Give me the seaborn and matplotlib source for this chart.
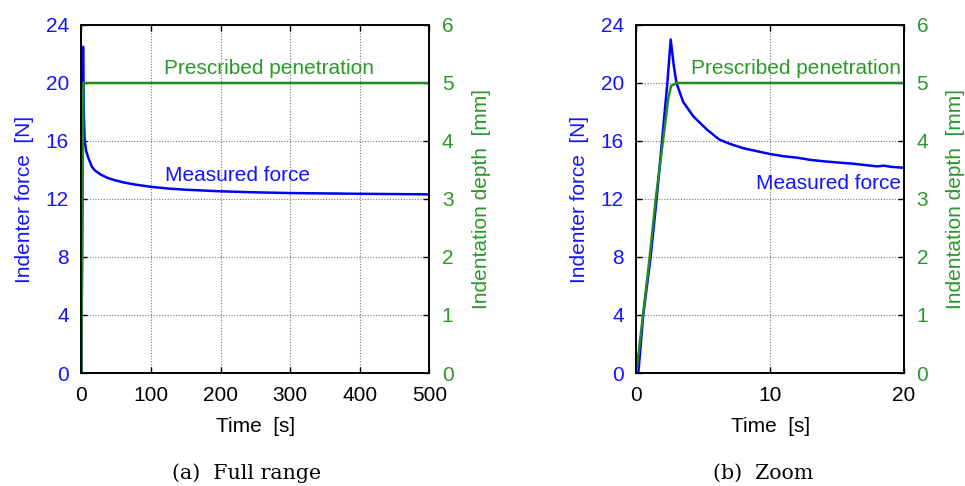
import matplotlib
matplotlib.use("Agg")
import matplotlib.pyplot as plt
import seaborn as sns
import pandas as pd

# ---- data ----
full_time = [0, 0.15, 2.5, 3, 3.8, 4.9, 7, 9.6, 15.4, 20, 28.8, 38, 48, 60, 76.7, 100, 125, 150, 200, 250, 300, 400, 500]
full_force = [0, 0, 22.5, 20.0, 17.5, 16.0, 15.3, 14.9, 14.2, 13.95, 13.66, 13.45, 13.3, 13.15, 13.0, 12.84,
              12.72, 12.64, 12.53, 12.46, 12.41, 12.36, 12.32]
full_depth_time = [0, 3, 500]
full_depth = [0, 5, 5]

zoom_time = [0, 0.15, 0.52, 1.07, 1.52, 1.92, 2.32, 2.57, 2.8, 3.0, 3.5, 4.26, 5.26, 6.2, 7.0,
             8.0, 9.0, 10.0, 11, 12.0, 13, 14.0, 15, 16.0, 17, 18.0, 18.5, 19, 20.0]
zoom_force = [0, 0, 4, 8, 12, 16, 20, 23.0, 21.2, 20.0, 18.7, 17.7, 16.8, 16.1, 15.8,
              15.5, 15.3, 15.1, 14.95, 14.85, 14.7, 14.6, 14.52, 14.45, 14.35, 14.25, 14.3, 14.22, 14.15]
zoom_depth_time = [0, 1.0, 1.45, 2.4, 2.6, 3.0, 20]
zoom_depth = [0, 2.0, 3.0, 4.75, 4.95, 5.0, 5.0]

force_ticks = [0, 4, 8, 12, 16, 20, 24]
depth_ticks = [0, 1, 2, 3, 4, 5, 6]
full_xticks = [0, 100, 200, 300, 400, 500]
zoom_xticks = [0, 10, 20]

sns.set_style("white")
plt.rcParams["font.family"] = ["Liberation Sans", "DejaVu Sans"]

BLUE = "#0000ff"
BLUE_T = "#1414ff"
GREEN = "#228b22"
GREEN_T = "#2a982a"
FS = 15

fig = plt.figure(figsize=(9.65, 4.86), dpi=100)
axA = fig.add_axes([81.3 / 965, 113 / 486, 348 / 965, 348 / 486])
axB = fig.add_axes([636.3 / 965, 113 / 486, 267.7 / 965, 348 / 486])


def style(ax, ax2, xmax, xticks):
    ax.set_xlim(0, xmax)
    ax.set_ylim(0, 24)
    ax2.set_ylim(0, 6)
    ax.set_xticks(xticks)
    ax.set_yticks(force_ticks)
    ax2.set_yticks(depth_ticks)
    ax.grid(True, color="#777777", linestyle=(0, (1, 1.5)), linewidth=0.8)
    ax2.grid(False)
    for a in (ax, ax2):
        for s in a.spines.values():
            s.set_color("black")
            s.set_linewidth(1.2)
            s.set_visible(True)
    ax.tick_params(axis="x", direction="in", top=True, bottom=True, length=4, width=1,
                   labelsize=FS, pad=9, colors="black")
    ax.tick_params(axis="y", direction="in", left=True, right=False, length=4, width=1,
                   labelsize=FS, pad=9, labelcolor=BLUE_T, color="black")
    ax2.tick_params(axis="y", direction="in", right=True, left=False, length=4, width=1,
                    labelsize=FS, pad=9, labelcolor=GREEN_T, color="black")
    ax.set_xlabel("Time  [s]", fontsize=FS, color="black", labelpad=9)
    ax.set_ylabel("Indenter force  [N]", fontsize=FS, color=BLUE_T, labelpad=8)
    ax2.set_ylabel("Indentation depth  [mm]", fontsize=FS, color=GREEN_T, labelpad=13)


# ---- panel (a) ----
dfA = pd.DataFrame({"t": full_time, "f": full_force})
dfAd = pd.DataFrame({"t": full_depth_time, "d": full_depth})
sns.lineplot(data=dfA, x="t", y="f", ax=axA, color=BLUE, linewidth=1.8, sort=False)
axA2 = axA.twinx()
sns.lineplot(data=dfAd, x="t", y="d", ax=axA2, color=GREEN, linewidth=1.8, sort=False)
style(axA, axA2, 500, full_xticks)
axA.text(270, 21.0, "Prescribed penetration", color=GREEN_T, fontsize=FS, ha="center", va="center")
axA.text(224, 13.6, "Measured force", color=BLUE_T, fontsize=FS, ha="center", va="center")

# ---- panel (b) ----
dfB = pd.DataFrame({"t": zoom_time, "f": zoom_force})
dfBd = pd.DataFrame({"t": zoom_depth_time, "d": zoom_depth})
sns.lineplot(data=dfB, x="t", y="f", ax=axB, color=BLUE, linewidth=1.8, sort=False)
axB2 = axB.twinx()
sns.lineplot(data=dfBd, x="t", y="d", ax=axB2, color=GREEN, linewidth=1.8, sort=False)
style(axB, axB2, 20, zoom_xticks)
axB.text(19.75, 21.0, "Prescribed penetration", color=GREEN_T, fontsize=FS, ha="right", va="center")
axB.text(19.75, 13.1, "Measured force", color=BLUE_T, fontsize=FS, ha="right", va="center")

# captions
fig.text(246.5 / 965, 1 - 473 / 486, "(a)  Full range", family=["DejaVu Serif"], fontsize=14.8,
         ha="center", va="center", color="black")
fig.text(763 / 965, 1 - 473 / 486, "(b)  Zoom", family=["DejaVu Serif"], fontsize=14.8,
         ha="center", va="center", color="black")

fig.savefig("out.png", dpi=100)
